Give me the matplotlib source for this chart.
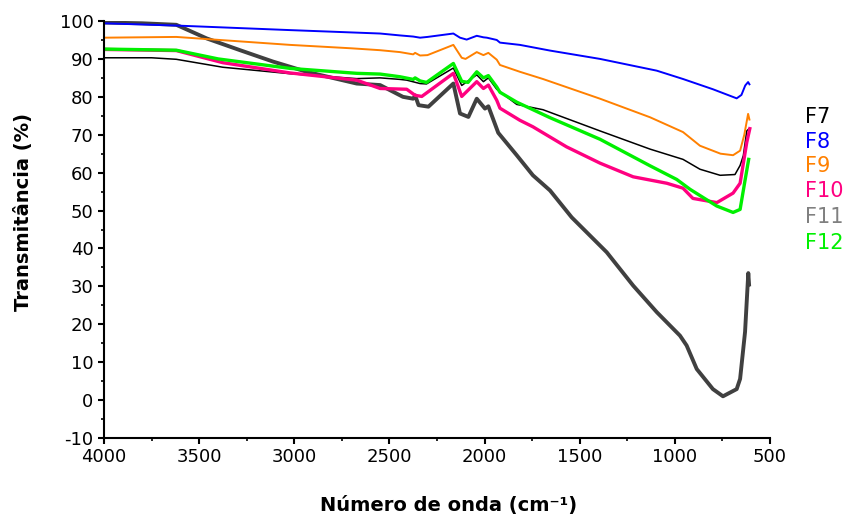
import matplotlib
matplotlib.use("Agg")
from matplotlib import pyplot as plt
from matplotlib.ticker import MultipleLocator

plt.rcParams['font.family'] = ['DejaVu Sans']
plt.rcParams['axes.unicode_minus'] = False

# espectros FTIR (numero de onda em cm-1, transmitancia em %)
f7_x = [4000, 3750, 3620, 3375, 3022, 2672, 2549, 2445, 2409, 2339, 2305, 2164,
        2120, 2041, 2006, 1980, 1936, 1831, 1693, 1393, 1130, 957, 868, 762,
        684, 657, 640, 622, 612]
f7_y = [90.3, 90.3, 89.9, 87.8, 86.1, 84.8, 85.0, 84.6, 84.4, 83.5, 83.4, 87.6,
        83.0, 85.8, 84.0, 85.0, 82.0, 78.0, 76.6, 71.0, 66.2, 63.5, 60.9, 59.3,
        59.5, 61.9, 64.5, 71.0, 71.5]

f8_x = [4000, 3620, 3022, 2549, 2445, 2375, 2339, 2300, 2164, 2129, 2094, 2041,
        2006, 1988, 1936, 1919, 1814, 1656, 1393, 1095, 957, 800, 675, 650,
        630, 615, 608]
f8_y = [99.4, 98.8, 97.6, 96.7, 96.2, 95.9, 95.6, 95.8, 96.7, 95.6, 95.1, 96.1,
        95.7, 95.6, 95.0, 94.3, 93.7, 92.2, 90.0, 86.9, 84.7, 82.0, 79.6, 80.5,
        83.0, 83.9, 83.3]

f9_x = [4000, 3620, 3022, 2700, 2549, 2445, 2375, 2365, 2339, 2300, 2164, 2120,
        2100, 2041, 2006, 1980, 1936, 1919, 1814, 1693, 1393, 1130, 957, 868,
        760, 694, 657, 635, 615, 608]
f9_y = [95.6, 95.8, 93.7, 92.8, 92.3, 91.8, 91.2, 91.6, 90.9, 91.0, 93.7, 90.3,
        90.0, 91.8, 91.0, 91.6, 89.8, 88.4, 86.6, 84.7, 79.5, 74.6, 70.7, 67.1,
        65.0, 64.6, 65.8, 70.0, 75.5, 74.0]

f10_x = [4000, 3620, 3375, 3022, 2672, 2549, 2409, 2365, 2330, 2164, 2120, 2041,
         2006, 1980, 1936, 1919, 1814, 1746, 1569, 1393, 1219, 1042, 957, 905,
         779, 694, 657, 622, 606]
f10_y = [92.5, 92.2, 89.0, 86.3, 84.4, 82.2, 82.0, 80.4, 80.1, 86.2, 80.1, 84.0,
         82.2, 83.1, 79.1, 77.0, 73.8, 72.1, 66.8, 62.5, 58.9, 57.2, 55.9, 53.2,
         52.1, 54.6, 57.2, 68.0, 71.6]

f11_x = [4000, 3800, 3620, 3460, 3285, 3112, 2935, 2672, 2549, 2429, 2375, 2365,
         2347, 2295, 2164, 2129, 2085, 2041, 1998, 1980, 1928, 1831, 1746, 1656,
         1542, 1498, 1358, 1219, 1095, 973, 938, 885, 800, 747, 675, 657, 631,
         614, 610]
f11_y = [99.6, 99.4, 99.0, 95.4, 92.3, 89.3, 86.6, 83.5, 83.1, 80.0, 79.5, 80.4,
         77.8, 77.4, 83.5, 75.6, 74.7, 79.5, 76.9, 77.5, 70.5, 64.6, 59.3, 55.3,
         48.2, 46.0, 39.0, 30.2, 23.2, 17.0, 14.4, 8.2, 2.9, 1.0, 2.9, 5.6, 18.0,
         33.5, 30.5]

f12_x = [4000, 3620, 3400, 3022, 2672, 2549, 2445, 2375, 2365, 2339, 2305, 2164,
         2120, 2087, 2041, 2006, 1980, 1936, 1919, 1831, 1656, 1393, 1130, 990,
         920, 780, 694, 657, 631, 612]
f12_y = [92.6, 92.3, 90.0, 87.5, 86.2, 86.0, 85.3, 84.6, 85.0, 84.2, 83.8, 88.8,
         84.1, 83.8, 86.6, 85.0, 85.6, 82.6, 81.2, 78.6, 74.5, 68.8, 61.8, 58.2,
         55.6, 51.2, 49.5, 50.3, 58.0, 63.5]

nomes = ['F7', 'F8', 'F9', 'F10', 'F11', 'F12']
cores = ['#000000', '#0000FF', '#FF8000', '#FF0080', '#404040', '#00F000']
cores_texto = ['#000000', '#0000FF', '#FF8000', '#FF0080', '#808080', '#00F000']
espessuras = [1.1, 1.4, 1.4, 2.4, 2.8, 2.4]
series = [(f7_x, f7_y), (f8_x, f8_y), (f9_x, f9_y),
          (f10_x, f10_y), (f11_x, f11_y), (f12_x, f12_y)]

fig = plt.figure(figsize=(8.51, 5.20), dpi=100)
ax = fig.add_axes([0.1222, 0.1577, 0.7826, 0.8019])

# ordem de desenho: F11 por baixo, F12 por cima
for i in [4, 0, 1, 2, 3, 5]:
    x, y = series[i]
    ax.plot(x, y, color=cores[i], lw=espessuras[i], solid_joinstyle='round')

ax.set_xlim(4000, 500)
ax.set_ylim(-10, 100)
ax.xaxis.set_major_locator(MultipleLocator(500))
ax.xaxis.set_minor_locator(MultipleLocator(250))
ax.yaxis.set_major_locator(MultipleLocator(10))
ax.yaxis.set_minor_locator(MultipleLocator(5))

ax.spines['top'].set_visible(False)
ax.spines['right'].set_visible(False)
for s in ['left', 'bottom']:
    ax.spines[s].set_linewidth(1.5)
ax.tick_params(which='major', direction='out', length=4.5, width=1.5,
               labelsize=13, pad=3)
ax.tick_params(which='minor', direction='out', length=2.5, width=1.2)

ax.set_xlabel('Número de onda (cm⁻¹)', fontsize=14, fontweight='bold')
ax.xaxis.set_label_coords(0.518, -0.139)
ax.set_ylabel('Transmitância (%)', fontsize=14, fontweight='bold')
ax.yaxis.set_label_coords(-0.107, 0.542)

# legenda em texto colorido
y_leg = [117, 142, 166, 191, 217, 243]
for i, nome in enumerate(nomes):
    fig.text(805 / 851, 1 - y_leg[i] / 520, nome, color=cores_texto[i],
             fontsize=15, ha='left', va='center')

fig.savefig('out.png', dpi=100)
